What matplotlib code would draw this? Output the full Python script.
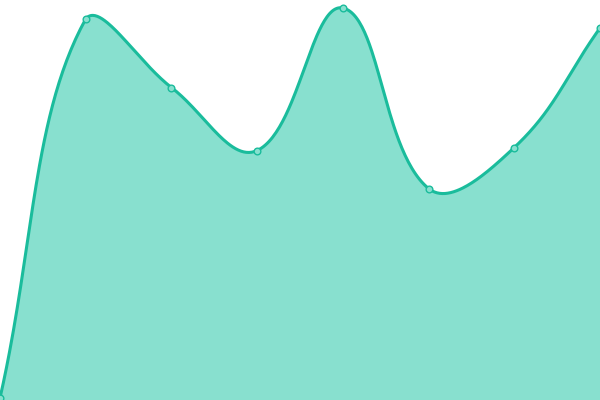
import numpy as np
import matplotlib
matplotlib.use("Agg")
import matplotlib.pyplot as plt

# data
categories = [0, 1, 2, 3, 4, 5, 6, 7]
values = [2, 381, 312.5, 249.5, 392, 211.5, 252.5, 372]

LINE = "#1abc9c"
FILL = "#88e0cf"


def spline_curve(xs, ys, tension=0.4, box=(0, 600, 0, 400), n=60):
    """ bezier smoothing with distance weighted control points, capped to the plot box """
    pts = np.column_stack([xs, ys]).astype(float)
    k = len(pts)
    cin = pts.copy()
    cout = pts.copy()
    for i in range(k):
        p = pts[i]
        prev = pts[i - 1] if i > 0 else p
        nxt = pts[i + 1] if i < k - 1 else p
        d01 = np.hypot(*(p - prev))
        d12 = np.hypot(*(nxt - p))
        s01 = d01 / (d01 + d12) if d01 + d12 > 0 else 0
        s12 = d12 / (d01 + d12) if d01 + d12 > 0 else 0
        cin[i] = p - tension * s01 * (nxt - prev)
        cout[i] = p + tension * s12 * (nxt - prev)
    lo = np.array([box[0], box[2]])
    hi = np.array([box[1], box[3]])
    cin = np.clip(cin, lo, hi)
    cout = np.clip(cout, lo, hi)
    t = np.linspace(0, 1, n)[:, None]
    out = []
    for i in range(k - 1):
        p1, c1, c2, p2 = pts[i], cout[i], cin[i + 1], pts[i + 1]
        out.append((1 - t) ** 3 * p1 + 3 * (1 - t) ** 2 * t * c1 + 3 * (1 - t) * t ** 2 * c2 + t ** 3 * p2)
    out = np.vstack(out)
    return out[:, 0], out[:, 1]


fig = plt.figure(figsize=(6, 4), dpi=100)
ax = fig.add_axes([0, 0, 1, 1])

# smooth in pixel-like units so distances match the screen
xscale = 600 / 7
sx, sy = spline_curve(np.array(categories) * xscale, values)
sx = sx / xscale

ax.fill_between(sx, 0, sy, color=FILL, linewidth=0)
ax.plot(sx, sy, color=LINE, linewidth=2.2, solid_capstyle="round")
ax.plot(categories, values, "o", markersize=4.8, markerfacecolor=FILL,
        markeredgecolor=LINE, markeredgewidth=1, clip_on=False)

ax.set_xlim(0, 7)
ax.set_ylim(0, 400)
ax.axis("off")

fig.savefig("out.png", dpi=100)
